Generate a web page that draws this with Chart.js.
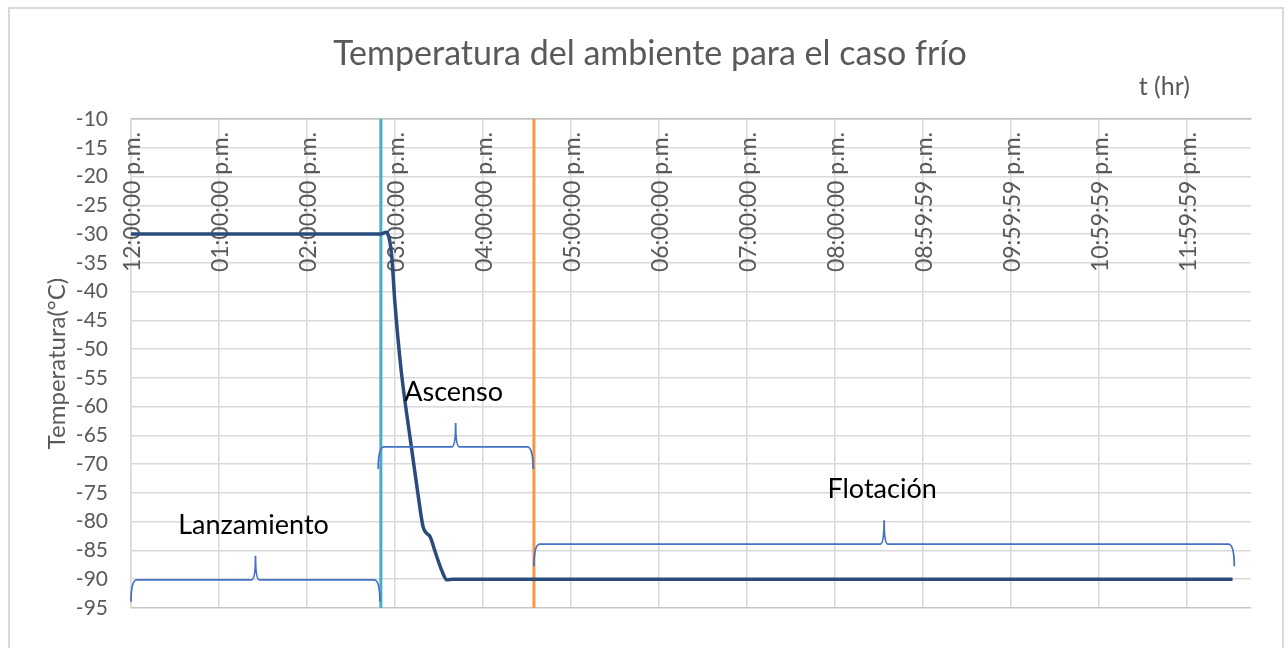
<!DOCTYPE html>
<html>
<head>
<meta charset="utf-8">
<script src="https://cdn.jsdelivr.net/npm/chart.js@4.4.1/dist/chart.umd.min.js"></script>
<style>
  html, body { margin: 0; padding: 0; background: #fff; overflow: hidden; }
  #frame { position: absolute; left: 8px; top: 7px; width: 1276px; height: 720px;
           border: 2px solid #D9D9D9; box-sizing: border-box; }
  #wrap { position: absolute; left: 0; top: 0; width: 1288px; height: 648px; }
</style>
</head>
<body>
<div id="frame"></div>
<div id="wrap"><canvas id="c" width="1288" height="648"></canvas></div>
<script>
// Texts
const chartTitle = 'Temperatura del ambiente para el caso frío';
const xAxisTitle = 't (hr)';
const yAxisTitle = 'Temperatura(°C)';

// Time axis: hours elapsed since 12:00 p.m.
const hourTicks = [0, 1, 2, 3, 4, 5, 6, 7, 8, 9, 10, 11, 12];
const hourLabels = [
  '12:00:00 p.m.', '01:00:00 p.m.', '02:00:00 p.m.', '03:00:00 p.m.',
  '04:00:00 p.m.', '05:00:00 p.m.', '06:00:00 p.m.', '07:00:00 p.m.',
  '08:00:00 p.m.', '08:59:59 p.m.', '09:59:59 p.m.', '10:59:59 p.m.',
  '11:59:59 p.m.'
];
const hourMax = 12.73;

// Temperature of the surrounding air (°C)
const timeHours = [0, 2.84, 2.90, 2.96, 3.00, 3.07, 3.17, 3.26, 3.32, 3.36, 3.40, 3.45, 3.53, 3.59, 3.66, 12.52];
const tempC     = [-30, -30, -29.7, -33.3, -42.0, -53.6, -65.2, -75.0, -80.9, -82.0, -82.6, -84.9, -88.4, -90.1, -90.0, -90.0];

// Flight phases
const launchHour = 2.84;   // balloon release
const floatHour = 4.58;    // float altitude reached
const phaseNames = ['Lanzamiento', 'Ascenso', 'Flotación'];
const phaseFrom  = [0, 2.81, 4.58];
const phaseTo    = [2.83, 4.57, 12.54];
const phaseLevel = [-90.1, -67.0, -83.9];

const FONT = 'Lato, "Open Sans", sans-serif';
const GREY = '#595959';

// Rotated hour labels sitting inside the plot, just under the top axis
const timeLabels = {
  id: 'timeLabels',
  beforeDatasetsDraw(chart) {
    const { ctx, chartArea, scales: { x } } = chart;
    ctx.save();
    ctx.font = `23px ${FONT}`;
    ctx.fillStyle = GREY;
    ctx.textAlign = 'right';
    ctx.textBaseline = 'middle';
    hourTicks.forEach((h, i) => {
      const px = x.getPixelForValue(h);
      ctx.save();
      ctx.translate(px + 1.5, chartArea.top + 13);
      ctx.rotate(-Math.PI / 2);
      ctx.fillText(hourLabels[i], 0, 0);
      ctx.restore();
    });
    ctx.restore();
  }
};

// Curly braces marking each phase, with their names; chart title and time-axis title
const phaseBraces = {
  id: 'phaseBraces',
  afterDatasetsDraw(chart) {
    const { ctx, chartArea, scales: { x, y } } = chart;
    const drop = 22, rise = 24, r = 6, rp = 4;
    ctx.save();
    ctx.strokeStyle = '#4472C4';
    ctx.lineWidth = 1.8;
    phaseNames.forEach((name, i) => {
      const x0 = x.getPixelForValue(phaseFrom[i]);
      const x1 = x.getPixelForValue(phaseTo[i]);
      const xm = (x0 + x1) / 2;
      const yh = y.getPixelForValue(phaseLevel[i]);
      ctx.beginPath();
      ctx.moveTo(x0, yh + drop);
      ctx.quadraticCurveTo(x0, yh, x0 + r, yh);
      ctx.lineTo(xm - rp, yh);
      ctx.quadraticCurveTo(xm, yh, xm, yh - rise);
      ctx.quadraticCurveTo(xm, yh, xm + rp, yh);
      ctx.lineTo(x1 - r, yh);
      ctx.quadraticCurveTo(x1, yh, x1, yh + drop);
      ctx.stroke();

      ctx.font = `27px ${FONT}`;
      ctx.fillStyle = '#000';
      ctx.textAlign = 'center';
      ctx.textBaseline = 'middle';
      ctx.fillText(name, xm - 2, yh - rise - 31);
    });

    ctx.fillStyle = GREY;
    ctx.font = `25px ${FONT}`;
    ctx.textAlign = 'right';
    ctx.textBaseline = 'middle';
    ctx.fillText(xAxisTitle, chartArea.right - 61, chartArea.top - 32);

    ctx.font = `34px ${FONT}`;
    ctx.textAlign = 'center';
    ctx.fillText(chartTitle, 650, 54);
    ctx.restore();
  }
};

const tempPoints = timeHours.map((h, i) => ({ x: h, y: tempC[i] }));

new Chart(document.getElementById('c'), {
  type: 'line',
  data: {
    datasets: [
      {
        data: tempPoints,
        borderColor: '#2A4B7C',
        borderWidth: 3.5,
        pointRadius: 0,
        cubicInterpolationMode: 'monotone'
      },
      {
        data: [{ x: launchHour, y: -10 }, { x: launchHour, y: -95 }],
        borderColor: '#4BACC6',
        borderWidth: 3,
        pointRadius: 0
      },
      {
        data: [{ x: floatHour, y: -10 }, { x: floatHour, y: -95 }],
        borderColor: '#F79646',
        borderWidth: 3,
        pointRadius: 0
      }
    ]
  },
  options: {
    responsive: false,
    animation: false,
    layout: { padding: { left: 0, right: 37, top: 119, bottom: 40 } },
    plugins: {
      legend: { display: false },
      tooltip: { enabled: false },
      title: { display: false }
    },
    scales: {
      x: {
        type: 'linear',
        position: 'top',
        min: 0,
        max: hourMax,
        afterBuildTicks: s => { s.ticks = hourTicks.map(v => ({ value: v })); },
        ticks: { display: false },
        grid: { color: '#D9D9D9', lineWidth: 1.5, drawTicks: false },
        border: { color: '#BFBFBF', width: 1.5 }
      },
      y: {
        min: -95,
        max: -10,
        ticks: {
          stepSize: 5,
          color: GREY,
          font: { family: FONT, size: 21 },
          padding: 23
        },
        grid: {
          color: c => (c.tick && c.tick.value === -95 ? '#C6C6C6' : '#D9D9D9'),
          lineWidth: 1.5,
          drawTicks: false
        },
        border: { color: '#D9D9D9', width: 1.5 },
        title: {
          display: true,
          text: yAxisTitle,
          color: GREY,
          font: { family: FONT, size: 24 },
          padding: { top: 43, bottom: 0 }
        },
        afterFit: s => { s.width = 131; }
      }
    }
  },
  plugins: [timeLabels, phaseBraces]
});
</script>
</body>
</html>
